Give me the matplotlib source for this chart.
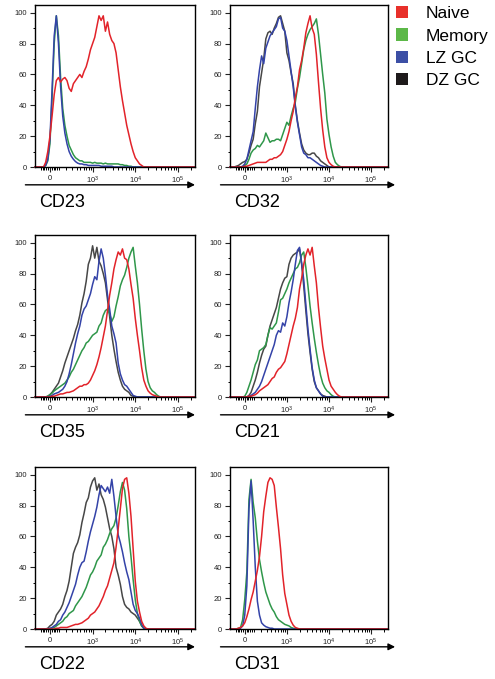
import numpy as np
import matplotlib.pyplot as plt
from matplotlib.patches import Patch

plt.rcParams['font.family'] = ['Liberation Sans', 'DejaVu Sans']
plt.rcParams['mathtext.default'] = 'regular'

# histogram channels in display decades (0 -> 0, 1 -> 10^3, 2 -> 10^4, 3 -> 10^5)
channels = np.round(np.arange(-0.35, 3.41, 0.05), 2)

# % of max, starting at channel -0.30
cd23_naive = [0, 0, 0, 0, 3, 10, 20, 33, 47, 56, 58, 55, 57, 58, 56, 51, 49, 54, 56, 58, 60, 58, 62, 65, 70, 76,
              80, 84, 91, 98, 95, 98, 88, 94, 86, 82, 80, 74, 63, 52, 43, 35, 27, 21, 15, 10, 6, 4, 2, 1, 0]
cd23_memory = [0, 0, 0, 0, 1, 4, 15, 45, 80, 98, 85, 58, 38, 27, 20, 14, 11, 8, 6, 5, 4, 4, 3, 3, 3, 3, 2.5, 3, 2.5,
               2.5, 2.5, 2, 2.5, 2, 2, 2, 2, 2, 2, 1.5, 1.5, 1, 1, 0.5, 0.5, 0]
cd23_lz = [0, 0, 0, 0, 1, 5, 18, 50, 85, 98, 80, 52, 33, 22, 15, 10, 7, 5, 3.5, 2.5, 2, 2, 1.5, 1.5, 1, 1, 1, 1, 1,
           1, 0.5, 0.5, 0.5, 0.5, 0.5, 0.5, 0]

cd32_naive = [0, 0, 0, 0, 0, 0, 0.5, 0.5, 1, 1.5, 2, 2.5, 3, 3, 3, 3, 3, 4, 5, 5, 6, 6, 7, 8, 10, 14, 18, 23, 30,
              36, 45, 52, 63, 69, 77, 87, 93, 98, 90, 86, 73, 55, 38, 24, 13, 6, 3, 1.5, 0.5, 0]
cd32_memory = [0, 0, 0, 0, 0, 0, 1, 2, 5, 9, 11, 12, 14, 13, 15, 17, 22, 19, 16, 17, 17, 18, 18, 17, 21, 25, 29, 27,
               33, 38, 42, 51, 58, 67, 76, 82, 86, 89, 91, 93, 96, 86, 73, 60, 48, 31, 21, 13, 7, 3, 1.5, 0.5, 0]
cd32_lz = [0, 0, 0, 0, 0, 0.5, 2, 5, 11, 17, 23, 38, 52, 63, 72, 67, 77, 81, 85, 87, 89, 91, 96, 97, 90, 88, 82, 72,
           62, 52, 39, 29, 21, 13, 9, 8, 6, 6, 5, 4, 3, 2, 1, 0.5, 0]
cd32_dz = [0, 0, 0.5, 1, 2, 3, 3.5, 5, 9, 14, 18, 28, 36, 52, 61, 70, 83, 87, 88, 86, 90, 93, 97, 98, 93, 88, 74, 69,
           61, 54, 40, 30, 22, 15, 11, 9, 8, 8, 9, 9, 7, 6, 4, 3, 2, 1, 0]

cd35_naive = [0, 0, 0, 0, 0, 0, 0, 0.5, 0.5, 1, 1.5, 2, 2, 2.5, 3, 3, 3.5, 4, 5, 6, 7, 7, 8, 8, 9, 11, 14, 17, 21, 26,
              32, 39, 46, 56, 66, 74, 83, 89, 94, 92, 96, 90, 89, 83, 73, 64, 51, 40, 30, 19, 11, 7, 4, 2.5, 1.5, 1,
              0.5, 0]
cd35_memory = [0, 0, 0, 0, 0, 0.5, 1.5, 2.5, 4, 5, 6, 7, 8, 9, 11, 13, 16, 18, 21, 24, 27, 30, 32, 35, 36, 38, 40, 41,
               42, 46, 48, 53, 56, 57, 54, 49, 52, 59, 65, 72, 76, 79, 84, 90, 94, 97, 85, 74, 60, 44, 30, 18, 10, 6,
               4, 3, 1.5, 0.5, 0]
cd35_lz = [0, 0, 0, 0, 0, 0, 0.5, 1, 2, 2.5, 3, 4, 5, 7, 10, 15, 21, 28, 35, 41, 46, 53, 57, 59, 63, 67, 73, 78, 76,
           88, 96, 90, 79, 66, 57, 46, 41, 35, 22, 15, 11, 8, 7, 5, 3, 1, 0.5, 0]
cd35_dz = [0, 0, 0, 0, 0, 0.5, 1.5, 3, 5, 7, 9, 13, 17, 22, 26, 30, 34, 38, 43, 47, 53, 61, 67, 75, 86, 90, 98, 90,
           97, 88, 85, 80, 74, 63, 52, 40, 31, 23, 16, 11, 7, 5, 4, 3, 1, 0.5, 0]

cd21_naive = [0, 0, 0, 0, 0, 0, 0, 0, 0.5, 0.5, 1, 1.5, 2.5, 4, 5, 6, 7, 8, 10, 12, 13, 16, 18, 19, 21, 23, 28, 34,
              40, 46, 51, 58, 70, 77, 86, 92, 96, 92, 97, 85, 74, 58, 45, 33, 25, 18, 11, 7, 5, 3, 1.5, 0.5, 0]
cd21_memory = [0, 0, 0, 0, 0, 0, 0.5, 3, 7, 11, 16, 21, 24, 30, 31, 32, 34, 40, 45, 44, 46, 48, 55, 63, 64, 67, 70,
               74, 77, 80, 83, 84, 87, 92, 94, 84, 72, 59, 48, 38, 29, 21, 14, 9, 6, 4, 3, 1.5, 0.5, 0]
cd21_lz = [0, 0, 0, 0, 0, 0, 0, 0, 0.5, 1, 2, 3, 5, 7, 10, 14, 18, 22, 26, 30, 34, 40, 43, 42, 48, 46, 52, 61, 68,
           76, 86, 95, 97, 87, 76, 60, 44, 31, 19, 11, 6, 4, 2, 0.5, 0]
cd21_dz = [0, 0, 0, 0, 0, 0, 0, 0, 1, 3, 7, 11, 16, 22, 27, 31, 33, 40, 46, 50, 54, 58, 64, 70, 74, 77, 78, 86, 90,
           92, 93, 94, 96, 86, 72, 56, 41, 29, 18, 10, 6, 4, 2, 1, 0.5, 0]

cd22_naive = [0, 0, 0, 0, 0, 0, 0, 0, 0, 0.5, 0.5, 1, 1, 1, 1, 1.5, 2, 2.5, 3, 3, 3.5, 4, 5, 6, 7, 9, 10, 11, 13, 15,
              18, 21, 25, 28, 33, 38, 43, 53, 65, 78, 91, 97, 98, 88, 73, 52, 31, 18, 11, 5, 2, 0.5, 0]
cd22_memory = [0, 0, 0, 0, 0, 0, 0, 0.5, 1, 2, 3, 4, 5, 7, 8, 10, 11, 12, 15, 17, 19, 21, 24, 27, 31, 35, 37, 40, 44,
               46, 48, 53, 55, 58, 62, 65, 67, 72, 80, 89, 95, 90, 78, 60, 47, 32, 19, 10, 5, 2, 0.5, 0]
cd22_lz = [0, 0, 0, 0, 0, 0, 0.5, 1, 2, 3, 5, 6, 9, 11, 14, 17, 21, 25, 29, 35, 40, 43, 44, 50, 57, 63, 68, 73, 79,
           87, 93, 91, 89, 92, 88, 97, 86, 73, 61, 56, 50, 43, 37, 32, 24, 16, 12, 10, 7, 3, 0.5, 0]
cd22_dz = [0, 0, 0, 0, 0, 0.5, 2, 3, 5, 9, 11, 13, 16, 21, 25, 31, 40, 49, 53, 56, 61, 69, 75, 82, 85, 92, 96, 98,
           90, 94, 87, 84, 79, 72, 65, 60, 52, 40, 35, 29, 21, 16, 14, 13, 11, 10, 9, 7, 5, 2, 0.5, 0]

cd31_naive = [0, 0, 0, 0.5, 1, 2, 4, 8, 13, 19, 24, 31, 38, 47, 60, 76, 86, 95, 98, 97, 93, 79, 66, 52, 35, 23, 16, 9,
              5, 2.5, 1, 0.5, 0]
cd31_memory = [0, 0, 0, 0.5, 1, 6, 19, 37, 84, 97, 82, 72, 57, 45, 37, 30, 24, 20, 16, 13, 11, 8, 6, 5, 4, 3, 2.5,
               2, 1, 0.5, 0]
cd31_lz = [0, 0, 0, 0, 0.5, 2, 9, 28, 78, 96, 70, 40, 18, 9, 4, 2.5, 1.5, 1, 0.5, 0.5, 0]

markers = ['CD23', 'CD32', 'CD35', 'CD21', 'CD22', 'CD31']
populations = ['Naive', 'Memory', 'LZ GC', 'DZ GC']
legend_colors = ['#e8302a', '#5cb848', '#3c4fa5', '#1e1a1b']
line_colors = ['#e2232a', '#2f974a', '#3443a8', '#474747']

panels = [
    [cd23_naive, cd23_memory, cd23_lz, None],
    [cd32_naive, cd32_memory, cd32_lz, cd32_dz],
    [cd35_naive, cd35_memory, cd35_lz, cd35_dz],
    [cd21_naive, cd21_memory, cd21_lz, cd21_dz],
    [cd22_naive, cd22_memory, cd22_lz, cd22_dz],
    [cd31_naive, cd31_memory, cd31_lz, None],
]


def to_display(v):
    return np.arcsinh(np.asarray(v) / 200.0) / np.log(10)


def from_display(t):
    return 200.0 * np.sinh(np.asarray(t) * np.log(10))


intensity = from_display(channels)


def padded(vals):
    return np.concatenate([[0], vals, np.zeros(len(channels) - 1 - len(vals))])


fig = plt.figure(figsize=(4.95, 6.79), dpi=100)

W, H = 495.0, 679.0
col_left = [35, 230]
col_width = [160, 158]
row_top = [5, 235, 467]
ax_h = 162
arrow_end = [1.0, 1.045]

minor_x = ([-100, -80, -60, -40, -20, 20, 40, 60, 80] + list(range(100, 1000, 100))
           + list(range(2000, 10000, 1000)) + list(range(20000, 100000, 10000)) + [200000])

for k, (name, curves) in enumerate(zip(markers, panels)):
    r, c = divmod(k, 2)
    ax = fig.add_axes([col_left[c] / W, 1 - (row_top[r] + ax_h) / H, col_width[c] / W, ax_h / H])
    ax.set_xscale('function', functions=(to_display, from_display))
    ax.set_xlim(from_display(-0.35), from_display(3.40))
    ax.set_ylim(0, 105)

    # draw order: DZ, Memory, LZ, Naive on top
    for idx in [3, 1, 2, 0]:
        if curves[idx] is None:
            continue
        ax.plot(intensity, padded(curves[idx]), color=line_colors[idx], lw=1.1, clip_on=False)

    ax.set_yticks([0, 20, 40, 60, 80, 100])
    ax.set_yticks([10, 30, 50, 70, 90], minor=True)
    ax.set_xticks([0, 1e3, 1e4, 1e5])
    ax.set_xticklabels(['0', '$10^3$', '$10^4$', '$10^5$'])
    ax.set_xticks(minor_x, minor=True)
    ax.tick_params(which='major', direction='out', length=3.5, width=0.8, labelsize=5.5, pad=2, colors='#222222')
    ax.tick_params(which='minor', direction='out', length=1.8, width=0.7)
    for s in ax.spines.values():
        s.set_linewidth(1.0)

    ax.annotate('', xy=(arrow_end[c], -0.11), xytext=(-0.06, -0.11), xycoords='axes fraction',
                arrowprops=dict(arrowstyle='-|>', lw=1.0, color='black', mutation_scale=10,
                                shrinkA=0, shrinkB=0))
    ax.text(0.025, -0.222, name, transform=ax.transAxes, fontsize=13, va='center', ha='left')

handles = [Patch(facecolor=col, edgecolor='none') for col in legend_colors]
fig.legend(handles, populations, loc='upper left', bbox_to_anchor=(396 / W, 1 - 6 / H), frameon=False,
           fontsize=12.5, handlelength=0.7, handleheight=0.7, handletextpad=1.0, labelspacing=0.42,
           borderpad=0, borderaxespad=0)

fig.savefig('out.png', dpi=100)
